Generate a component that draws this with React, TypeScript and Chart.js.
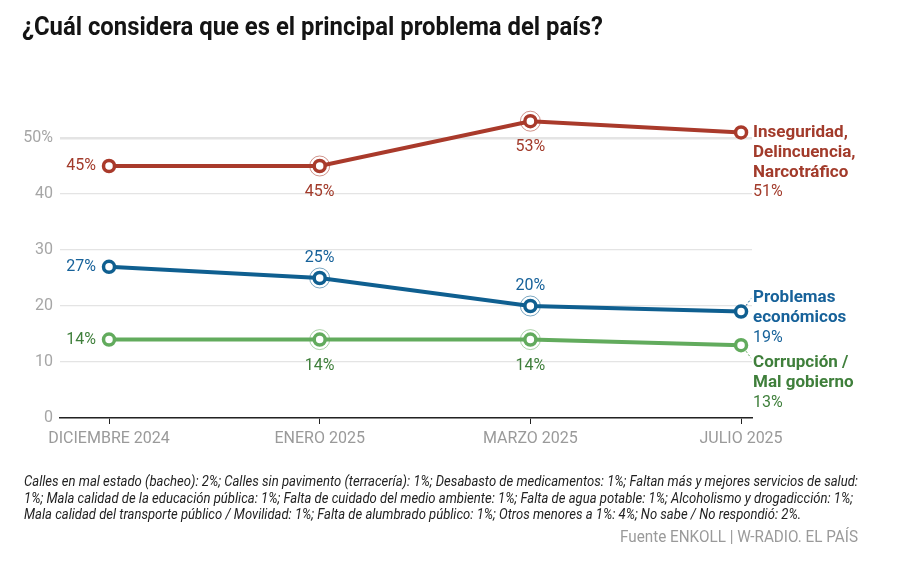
import React, { useEffect, useLayoutEffect, useRef } from "react";
import { Chart, registerables } from "chart.js";

Chart.register(...registerables);

// Survey waves (x axis)
const months = ["DICIEMBRE 2024", "ENERO 2025", "MARZO 2025", "JULIO 2025"];

// Share of respondents naming each issue as the main problem (%)
const inseguridad = [45, 45, 53, 51];
const economicos = [27, 25, 20, 19];
const corrupcion = [14, 14, 14, 13];

// Y axis ticks
const yTicks = [0, 10, 20, 30, 40, 50];

// Series names shown at the end of each line
const nameInseguridad = ["Inseguridad,", "Delincuencia,", "Narcotráfico"];
const nameEconomicos = ["Problemas", "económicos"];
const nameCorrupcion = ["Corrupción /", "Mal gobierno"];

const titleText = "¿Cuál considera que es el principal problema del país?";
const footnoteLines = [
  "Calles en mal estado (bacheo): 2%; Calles sin pavimento (terracería): 1%; Desabasto de medicamentos: 1%; Faltan más y mejores servicios de salud:",
  "1%; Mala calidad de la educación pública: 1%; Falta de cuidado del medio ambiente: 1%; Falta de agua potable: 1%; Alcoholismo y drogadicción: 1%;",
  "Mala calidad del transporte público / Movilidad: 1%; Falta de alumbrado público: 1%; Otros menores a 1%: 4%; No sabe / No respondió: 2%.",
];
const footnoteWidths = [834, 829, 777];
const sourceText = "Fuente ENKOLL | W-RADIO. EL PAÍS";

const RED = "#a93a2b";
const BLUE = "#0f5f90";
const GREEN = "#62ab5d";
const RED_TXT = "#a23b2b";
const BLUE_TXT = "#17629a";
const GREEN_TXT = "#3f7f3b";

const NUM_FONT = "Roboto, 'Liberation Sans', sans-serif";
const BOLD_FONT = "Roboto, 'Liberation Sans', sans-serif";

type Placement = "left" | "below" | "above" | "end";

interface SeriesStyle {
  placements: Placement[];
  names: string[];
  endOffset: number;
  textColor: string;
  leader: number; // -1 up, 1 down, 0 none
}

const styles: SeriesStyle[] = [
  { placements: ["left", "below", "below", "end"], names: nameInseguridad, endOffset: 0, textColor: RED_TXT, leader: 0 },
  { placements: ["left", "above", "above", "end"], names: nameEconomicos, endOffset: -14, textColor: BLUE_TXT, leader: -1 },
  { placements: ["left", "below", "below", "end"], names: nameCorrupcion, endOffset: 18, textColor: GREEN_TXT, leader: 1 },
];

const labelPlugin = {
  id: "pointLabels",
  afterDatasetsDraw(chart: any) {
    const ctx = chart.ctx as CanvasRenderingContext2D;
    chart.data.datasets.forEach((ds: any, di: number) => {
      const st = styles[di];
      const meta = chart.getDatasetMeta(di);
      meta.data.forEach((pt: any, i: number) => {
        const v = ds.data[i].y;
        const x = pt.x;
        const y = pt.y;
        // halo rings on the intermediate waves
        if (i === 1 || i === 2) {
          ctx.save();
          ctx.beginPath();
          ctx.arc(x, y, 10, 0, Math.PI * 2);
          ctx.strokeStyle = ds.borderColor;
          ctx.globalAlpha = 0.55;
          ctx.lineWidth = 1;
          ctx.stroke();
          ctx.restore();
        }
        const txt = v + "%";
        ctx.save();
        ctx.fillStyle = st.textColor;
        ctx.font = "16px " + NUM_FONT;
        ctx.textBaseline = "middle";
        const p = st.placements[i];
        if (p === "left") {
          ctx.textAlign = "right";
          ctx.fillText(txt, x - 13, y);
        } else if (p === "below") {
          ctx.textAlign = "center";
          ctx.fillText(txt, x, y + 26);
        } else if (p === "above") {
          ctx.textAlign = "center";
          ctx.fillText(txt, x, y - 20);
        } else if (p === "end") {
          const lx = x + 12;
          let ly = y + st.endOffset;
          ctx.textAlign = "left";
          ctx.font = "bold 17px " + BOLD_FONT;
          st.names.forEach((n) => {
            ctx.fillText(n, lx, ly);
            ly += 20;
          });
          ctx.font = "16px " + NUM_FONT;
          ctx.fillText(txt, lx, ly);
          if (st.leader !== 0) {
            ctx.beginPath();
            ctx.setLineDash([2, 2]);
            ctx.strokeStyle = ds.borderColor;
            ctx.lineWidth = 1;
            ctx.moveTo(x + 5, y + st.leader * 6);
            ctx.lineTo(x + 10, y + st.leader * 13);
            ctx.stroke();
          }
        }
        ctx.restore();
      });
    });
  },
};

// Text squeezed horizontally to a given width (condensed look)
function FitText(props: { text: string; width: number; style: React.CSSProperties }) {
  const ref = useRef<HTMLSpanElement | null>(null);
  useLayoutEffect(() => {
    const el = ref.current;
    if (!el) return;
    el.style.transform = "none";
    const w = el.getBoundingClientRect().width;
    if (w > 0) el.style.transform = `scaleX(${props.width / w})`;
  }, [props.text, props.width]);
  return (
    <span
      ref={ref}
      style={{
        display: "inline-block",
        whiteSpace: "nowrap",
        transformOrigin: "left top",
        ...props.style,
      }}
    >
      {props.text}
    </span>
  );
}

function ChartCanvas() {
  const ref = useRef<HTMLCanvasElement | null>(null);

  useEffect(() => {
    if (!ref.current) return;
    const mk = (vals: number[]) => vals.map((y, x) => ({ x, y }));
    const line = (label: string, vals: number[], color: string) => ({
      label,
      data: mk(vals),
      borderColor: color,
      backgroundColor: "#ffffff",
      pointBackgroundColor: "#ffffff",
      pointBorderColor: color,
      borderWidth: 4,
      pointRadius: 5.5,
      pointBorderWidth: 3.5,
      pointHoverRadius: 5.5,
      tension: 0,
    });

    const chart = new Chart(ref.current, {
      type: "line",
      data: {
        datasets: [
          line("Inseguridad, Delincuencia, Narcotráfico", inseguridad, RED),
          line("Problemas económicos", economicos, BLUE),
          line("Corrupción / Mal gobierno", corrupcion, GREEN),
        ],
      },
      options: {
        animation: false,
        responsive: false,
        maintainAspectRatio: false,
        events: [],
        layout: { padding: { left: 0, right: 166, top: 110, bottom: 113 } },
        plugins: {
          legend: { display: false },
          tooltip: { enabled: false },
        },
        scales: {
          x: {
            type: "linear",
            min: -0.2326,
            max: 3.052,
            afterBuildTicks: (scale: any) => {
              scale.ticks = months.map((_, i) => ({ value: i }));
            },
            afterFit: (scale: any) => {
              scale.height = 40;
            },
            grid: {
              drawOnChartArea: false,
              drawTicks: true,
              tickLength: 6,
              color: "#222222",
              lineWidth: 1,
            },
            border: { display: true, color: "#222222", width: 1.5 },
            ticks: {
              padding: 5,
              color: "#9a9a9a",
              font: { family: NUM_FONT, size: 16 },
              maxRotation: 0,
              callback: (v: any) => months[v as number] ?? "",
            },
          },
          y: {
            type: "linear",
            min: 0,
            max: 55,
            afterBuildTicks: (scale: any) => {
              scale.ticks = yTicks.map((v) => ({ value: v }));
            },
            afterFit: (scale: any) => {
              scale.width = 60;
            },
            grid: {
              drawTicks: false,
              color: "#e4e4e4",
              lineWidth: (c: any) => (c.tick && c.tick.value === 50 ? 2.5 : 1.2),
            },
            border: { display: false },
            ticks: {
              padding: 7,
              color: "#a6a6a6",
              font: { family: NUM_FONT, size: 16 },
              callback: (v: any) => (v === 50 ? "50%" : String(v)),
            },
          },
        },
      },
      plugins: [labelPlugin],
    } as any);

    return () => chart.destroy();
  }, []);

  return (
    <canvas
      ref={ref}
      width={918}
      height={571}
      style={{ position: "absolute", left: 0, top: 0, width: 918, height: 571 }}
    />
  );
}

export default function App() {
  return (
    <div
      style={{
        position: "fixed",
        left: 0,
        top: 0,
        width: 918,
        height: 571,
        background: "#ffffff",
        overflow: "hidden",
      }}
    >
      <ChartCanvas />
      <div style={{ position: "absolute", left: 22, top: 12 }}>
        <FitText
          text={titleText}
          width={581}
          style={{
            fontFamily: "Roboto, sans-serif",
            fontWeight: 700,
            fontSize: 25,
            lineHeight: "30px",
            color: "#141414",
          }}
        />
      </div>
      <div style={{ position: "absolute", left: 24, top: 472 }}>
        {footnoteLines.map((l, i) => (
          <div key={i} style={{ height: 16.5 }}>
            <FitText
              text={l}
              width={footnoteWidths[i]}
              style={{
                fontFamily: "Roboto, sans-serif",
                fontStyle: "italic",
                fontSize: 14,
                lineHeight: "16.5px",
                color: "#222222",
              }}
            />
          </div>
        ))}
      </div>
      <div style={{ position: "absolute", left: 620, top: 527 }}>
        <FitText
          text={sourceText}
          width={238}
          style={{
            fontFamily: "Roboto, sans-serif",
            fontSize: 16,
            lineHeight: "20px",
            color: "#9a9a9a",
          }}
        />
      </div>
    </div>
  );
}
